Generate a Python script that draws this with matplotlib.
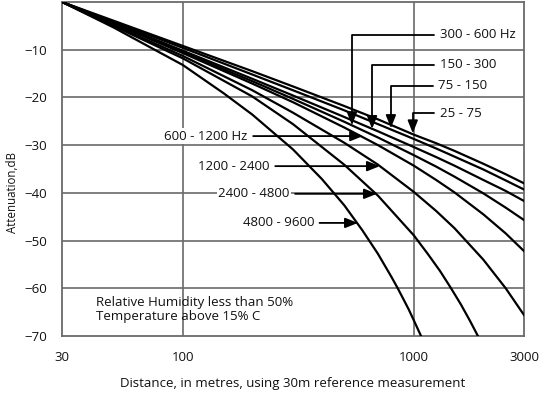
import matplotlib
matplotlib.use('Agg')
import matplotlib.pyplot as plt

plt.rcParams['font.family'] = ['Open Sans', 'DejaVu Sans']

# distances (m) and attenuation (dB), one curve per band
dist_std = [30, 50, 100, 200, 300, 500, 700, 1000, 1250, 1500, 2000, 2500, 3000]
att_25_75 = [0, -3.9, -9.2, -14.5, -17.7, -21.8, -24.6, -27.8, -29.6, -31.2, -33.9, -36.1, -38.0]
att_75_150 = [0, -4.1, -9.6, -15.2, -18.5, -22.7, -25.6, -28.7, -30.7, -32.4, -35.1, -37.4, -39.3]
att_150_300 = [0, -4.3, -10.2, -16.1, -19.6, -24.1, -27.1, -30.4, -32.5, -34.3, -37.3, -39.6, -41.7]
att_300_600 = [0, -4.4, -10.5, -16.6, -20.3, -25.1, -28.4, -32.1, -34.5, -36.6, -40.1, -43.1, -45.7]
att_600_1200 = [0, -4.5, -10.7, -17.1, -21.0, -26.3, -30.0, -34.3, -37.3, -39.9, -44.5, -48.5, -52.2]
att_1200_2400 = [0, -4.8, -11.3, -18.5, -23.2, -29.5, -34.1, -39.8, -43.8, -47.4, -54.0, -60.0, -65.6]

dist_2400 = [30, 50, 100, 200, 300, 500, 700, 1000, 1150, 1300, 1450, 1600, 1750, 1895]
att_2400_4800 = [0, -5.0, -11.8, -19.8, -25.6, -34.1, -40.6, -48.9, -52.8, -56.4, -60.0, -63.4, -66.8, -70.0]

dist_4800 = [30, 50, 100, 150, 200, 300, 400, 500, 600, 700, 800, 850, 900, 950, 1000, 1040, 1075]
att_4800_9600 = [0, -5.3, -13.2, -19.1, -23.6, -30.9, -37.1, -42.6, -47.9, -52.8, -57.6,
                 -59.9, -62.2, -64.4, -66.7, -68.5, -70.0]

x_ticks = [30, 100, 1000, 3000]
x_tick_labels = ['30', '100', '1000', '3000']
y_ticks = [-70, -60, -50, -40, -30, -20, -10]

curves = [
    (dist_std, att_25_75), (dist_std, att_75_150), (dist_std, att_150_300),
    (dist_std, att_300_600), (dist_std, att_600_1200), (dist_std, att_1200_2400),
    (dist_2400, att_2400_4800), (dist_4800, att_4800_9600),
]

GRID = '#6a6a6a'
INK = '#111111'
FS = 9.5

fig = plt.figure(figsize=(5.4, 3.96), dpi=100)
ax = fig.add_axes([62 / 540, 60 / 396, 462 / 540, 334 / 396])

for xs, ys in curves:
    ax.plot(xs, ys, color='black', lw=1.6, zorder=3, solid_joinstyle='round')

ax.set_xscale('log')
ax.set_xlim(30, 3000)
ax.set_ylim(-70, 0)
ax.set_xticks(x_ticks)
ax.set_xticklabels(x_tick_labels)
ax.minorticks_off()
ax.set_yticks(y_ticks)
ax.tick_params(length=0, labelsize=FS, colors=INK)
ax.tick_params(axis='y', pad=11)
ax.tick_params(axis='x', pad=11)

for x in [100, 1000]:
    ax.axvline(x, color=GRID, lw=1.2, zorder=1)
for y in y_ticks[1:]:
    ax.axhline(y, color=GRID, lw=1.2, zorder=1)
for s in ax.spines.values():
    s.set_color(GRID)
    s.set_linewidth(1.3)

ax.set_ylabel('Attenuation,dB', fontsize=8.3, color=INK)
ax.yaxis.set_label_coords(-0.094, 0.43)
ax.set_xlabel('Distance, in metres, using 30m reference measurement',
              fontsize=FS, color=INK, labelpad=9)

arrow_kw = dict(arrowstyle='-|>,head_length=0.8,head_width=0.32',
                color='black', lw=1.3, shrinkA=3, shrinkB=0)
box = dict(boxstyle='square,pad=0.1', facecolor='white', edgecolor='none')

# elbow arrows from the right-hand labels
elbow = [
    ('300 - 600 Hz', (1298, -6.9), (540, -25.8)),
    ('150 - 300', (1298, -13.2), (660, -26.6)),
    ('75 - 150', (1273, -17.6), (796, -26.4)),
    ('25 - 75', (1298, -23.3), (990, -27.5)),
]
for label, txt, tip in elbow:
    ax.annotate(label, xy=tip, xytext=txt, ha='left', va='center',
                fontsize=FS, color=INK, zorder=5, bbox=box,
                arrowprops=dict(connectionstyle='angle,angleA=0,angleB=90,rad=0',
                                **arrow_kw))

# straight arrows from the left-hand labels
straight = [
    ('600 - 1200 Hz', (191, -28.1), (603, -28.1)),
    ('1200 - 2400', (238, -34.4), (713, -34.4)),
    ('2400 - 4800', (290, -40.2), (692, -40.2)),
    ('4800 - 9600', (370, -46.3), (573, -46.3)),
]
for label, txt, tip in straight:
    ax.annotate(label, xy=tip, xytext=txt, ha='right', va='center',
                fontsize=FS, color=INK, zorder=5, bbox=box,
                arrowprops=arrow_kw)

ax.text(41.9, -64.4, 'Relative Humidity less than 50%\nTemperature above 15% C',
        ha='left', va='center', fontsize=FS, color=INK, linespacing=1.1,
        zorder=5)

fig.savefig('out.png', dpi=100)
